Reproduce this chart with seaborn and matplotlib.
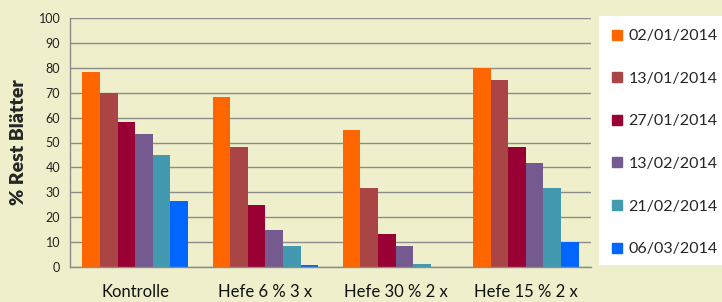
import matplotlib
matplotlib.use("Agg")
import matplotlib.pyplot as plt
import seaborn as sns
import pandas as pd
from matplotlib.patches import Rectangle
from matplotlib.lines import Line2D

categories = ["Kontrolle", "Hefe 6 % 3 x", "Hefe 30 % 2 x", "Hefe 15 % 2 x"]
dates = ["02/01/2014", "13/01/2014", "27/01/2014", "13/02/2014", "21/02/2014", "06/03/2014"]
values = {
    "02/01/2014": [78.3, 68.3, 55.0, 80.0],
    "13/01/2014": [70.0, 48.3, 31.7, 75.0],
    "27/01/2014": [58.3, 25.0, 13.3, 48.3],
    "13/02/2014": [53.3, 15.0, 8.3, 41.7],
    "21/02/2014": [45.0, 8.3, 1.3, 31.7],
    "06/03/2014": [26.7, 0.8, 0.0, 10.0],
}
colors = ["#FF6600", "#AA4545", "#990033", "#745A8E", "#4299B0", "#0066FF"]
yticks = list(range(0, 101, 10))

rows = []
for d in dates:
    for c, v in zip(categories, values[d]):
        rows.append({"cat": c, "date": d, "val": v})
df = pd.DataFrame(rows)

sns.set_style("white")
plt.rcParams["font.family"] = ["Lato", "DejaVu Sans"]

bg = "#EFEFCB"
fig = plt.figure(figsize=(7.22, 3.02), dpi=100, facecolor=bg)
ax = fig.add_axes([70 / 722, 1 - 267 / 302, (591 - 70) / 722, (267 - 18) / 302])
ax.set_facecolor(bg)

sns.barplot(data=df, x="cat", y="val", hue="date", hue_order=dates, order=categories,
            palette=colors, width=0.81, linewidth=0, saturation=1, ax=ax, legend=False)

ax.set_ylim(0, 100)
ax.set_xlim(-0.5, 3.5)
ax.set_yticks(yticks)
ax.set_yticklabels([str(t) for t in yticks], fontsize=9, color="#222222")
ax.yaxis.grid(True, color="#8C8C8C", linewidth=1)
ax.set_axisbelow(True)

# category labels + boundary tick marks
ax.set_xticks(range(len(categories)))
ax.set_xticklabels(categories, fontsize=12, color="#111111")
ax.tick_params(axis="x", length=0, pad=12)
ax.set_xticks([-0.5, 0.5, 1.5, 2.5, 3.5], minor=True)
ax.tick_params(axis="x", which="minor", length=5, color="#8C8C8C", width=1)
ax.tick_params(axis="y", length=4, color="#8C8C8C", width=1, pad=3)

for s in ["top", "right"]:
    ax.spines[s].set_visible(False)
for s in ["left", "bottom"]:
    ax.spines[s].set_color("#8C8C8C")
    ax.spines[s].set_linewidth(1)

ax.set_xlabel("")
ax.set_ylabel("% Rest Blätter", fontsize=14, fontweight="heavy", labelpad=8)

# legend box
fig.patches.append(Rectangle((599 / 722, 1 - 265 / 302), 1 - 599 / 722, (265 - 16) / 302,
                             transform=fig.transFigure, facecolor="white", edgecolor="none", zorder=0))
handles = [Line2D([], [], marker="s", linestyle="none", markersize=7.5,
                  markerfacecolor=c, markeredgecolor=c) for c in colors]
fig.legend(handles, dates, loc="upper left", bbox_to_anchor=(611 / 722, 1 - 29 / 302),
           frameon=False, fontsize=11.5, labelspacing=1.78, handlelength=0.8,
           handletextpad=0.3, borderpad=0, borderaxespad=0)

fig.savefig("out.png", dpi=100, facecolor=bg)
